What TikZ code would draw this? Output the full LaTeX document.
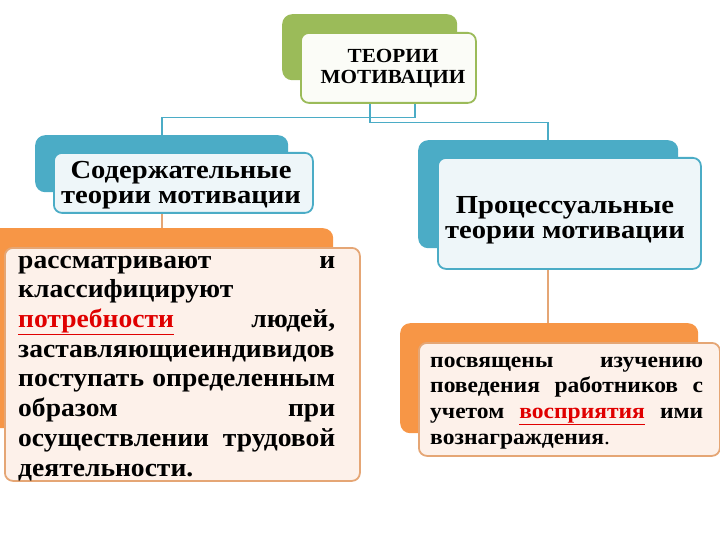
\documentclass[tikz,border=0pt]{standalone}
\usepackage{fontspec}
\setmainfont{Liberation Serif}
\newfontfamily\headfont{Liberation Serif}[FakeStretch=1.1]
\newfontfamily\bodyfont{Liberation Serif}[FakeStretch=1.06]
\newfontfamily\sidefont{Liberation Serif}[FakeStretch=1.07]
\usetikzlibrary{positioning}

\definecolor{olivegr}{HTML}{9BBB59}
\definecolor{tealbl}{HTML}{4BACC6}
\definecolor{orng}{HTML}{F79646}
\definecolor{tanline}{HTML}{E5A675}
\definecolor{peach}{HTML}{FDF1EA}
\definecolor{iceblue}{HTML}{EEF6F9}
\definecolor{palegr}{HTML}{FBFCF7}
\definecolor{redword}{HTML}{E00000}

\newcommand{\redword}[1]{\textcolor{redword}{\underline{#1}}}
\newcommand{\firstline}{\rule{0pt}{20pt}}

\begin{document}
\begin{tikzpicture}[x=1pt,y=-1pt,
    backbox/.style={rectangle, rounded corners=10pt, anchor=north west, inner sep=0pt},
    frontbox/.style={rectangle, rounded corners=8pt, anchor=north west, inner sep=0pt, line width=1.8pt},
    headtxt/.style={anchor=north, inner sep=0pt, align=center, font=\headfont\bfseries\fontsize{26}{25}\selectfont},
    bodytxt/.style={anchor=north west, inner sep=0pt, align=left},
    conn/.style={draw=tealbl, line width=1.6pt},
    subconn/.style={draw=tanline, line width=1.6pt},
]
\useasboundingbox (0,0) rectangle (720,540);

% back plates
\node[backbox, fill=olivegr, minimum width=175pt, minimum height=66pt] (topback) at (282,14) {};
\node[backbox, fill=tealbl, minimum width=253pt, minimum height=57pt] (leftback) at (35,135) {};
\node[backbox, fill=tealbl, minimum width=260pt, minimum height=108pt] (rightback) at (418,140) {};
\node[backbox, fill=orng, minimum width=343pt, minimum height=200pt] (leftorback) at (-10,228) {};
\node[backbox, fill=orng, minimum width=298pt, minimum height=110pt] (rightorback) at (400,323) {};

% connectors
\draw[conn] ([xshift=45pt]topback.south) -- ++(0,37) -| (leftback.north);
\draw[conn] (topback.south) -- ++(0,42) -| (rightback.north);
\draw[subconn] (leftback.south) -- (leftback.south |- leftorback.north);
\draw[subconn] (rightback.south) -- (rightback.south |- rightorback.north);

% front plates
\node[frontbox, draw=olivegr, fill=palegr, minimum width=175pt, minimum height=70pt] (topfront) at (300,32) {};
\node[frontbox, draw=tealbl, fill=iceblue, minimum width=259pt, minimum height=60pt] (leftfront) at (53,152) {};
\node[frontbox, draw=tealbl, fill=iceblue, minimum width=263pt, minimum height=111pt] (rightfront) at (437,157) {};
\node[frontbox, draw=tanline, fill=peach, minimum width=355pt, minimum height=233pt] (leftorfront) at (4,247) {};
\node[frontbox, draw=tanline, fill=peach, minimum width=301pt, minimum height=113pt] (rightorfront) at (418,342) {};

% texts
\node[headtxt, font=\bodyfont\bfseries\fontsize{20}{21}\selectfont] (toptxt) at (393,42) {\firstline ТЕОРИИ\\МОТИВАЦИИ};
\node[headtxt] (lefttxt) at (181,158) {\firstline Содержательные\\теории мотивации};
\node[headtxt] (righttxt) at (565,193) {\firstline Процессуальные\\теории мотивации};

\node[bodytxt, text width=317pt, font=\bodyfont\bfseries\fontsize{26}{29.7}\selectfont] (leftbody) at (18,248)
  {\firstline рассматривают\hfill и\\
   классифицируют\\
   \redword{потребности}\hfill людей,\\
   заставляющиеиндивидов\\
   поступать\hfill определенным\\
   образом\hfill при\\
   осуществлении\hfill трудовой\\
   деятельности.};

\node[bodytxt, text width=273pt, font=\sidefont\bfseries\fontsize{22}{25.7}\selectfont] (rightbody) at (430,347)
  {\firstline посвящены\hfill изучению\\
   поведения\hfill работников\hfill с\\
   учетом\hfill \redword{восприятия}\hfill ими\\
   вознаграждения{\mdseries .}};
\end{tikzpicture}
\end{document}
